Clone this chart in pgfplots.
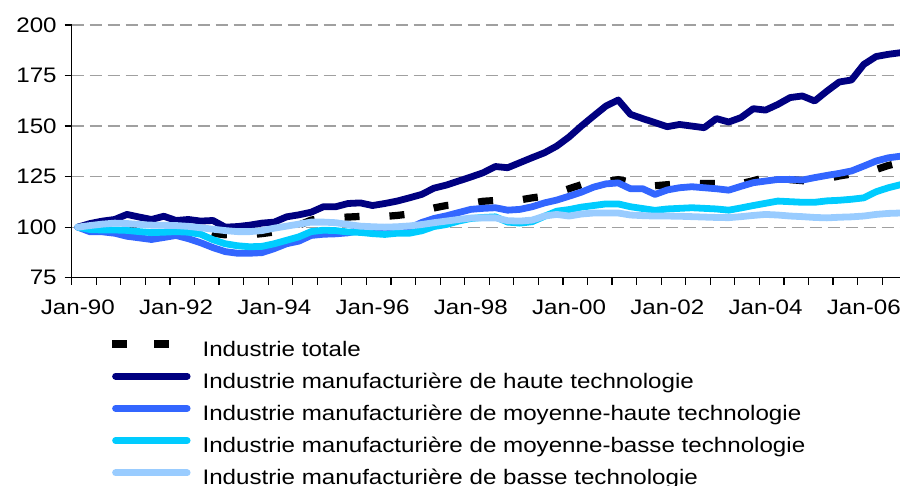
\documentclass[border=0pt]{standalone}
\usepackage{fontspec}
\setmainfont[FakeStretch=1.15]{Liberation Sans}
\usepackage{pgfplots}
\usepackage{pgfplotstable}
\pgfplotsset{compat=1.18}

\definecolor{haute}{HTML}{000080}
\definecolor{mhaute}{HTML}{3366FF}
\definecolor{mbasse}{HTML}{00CCFF}
\definecolor{basse}{HTML}{99CCFF}
\definecolor{gridgray}{HTML}{A0A0A0}

% quarterly indices, Jan-90 = 100 (x = quarter index + 0.5)
\pgfplotstableread{
x    total haute mhaute mbasse basse
0.5  100   100   100   100   100
1.5  100.3 101.8 97.7  98.8  100.8
2.5  100.8 103   97.7  98.6  101.5
3.5  101   103.8 97    98.6  102
4.5  101.3 106.3 95.5  98.4  101.8
5.5  101   105   94.7  97.8  101.3
6.5  100.6 103.8 93.9  97.3  101
7.5  100.7 105.4 94.9  97.5  100.9
8.5  100.3 103.3 95.9  97.8  100.8
9.5  99.8  103.8 94.3  97.5  100.4
10.5 98.8  103   92.3  96.5  99.7
11.5 97    103.3 89.9  93.8  99
12.5 96.2  100   87.9  91.8  98.3
13.5 96    100.3 87.1  90.8  97.8
14.5 96.2  101   87.1  90.3  97.8
15.5 96.8  102   87.4  90.5  98.3
16.5 97.6  102.5 89.4  91.8  99.5
17.5 99.5  105.1 91.8  93.5  100.5
18.5 101   106.1 93.1  95.2  101.5
19.5 103.5 107.4 95.9  97.8  102.5
20.5 104.6 110.1 96.5  98.5  102.5
21.5 104.8 110.1 96.7  98.3  102.2
22.5 105   111.7 97.2  97.6  101.3
23.5 105.3 112   98.5  97.4  100.5
24.5 105.2 110.7 98    96.8  100.2
25.5 105.3 111.7 98    96.4  100
26.5 105.8 112.9 98.5  97    100.2
27.5 106.5 114.5 99.5  97    100.6
28.5 108   116.2 102.3 98.2  101.3
29.5 109.5 119.3 104.3 100.3 102.2
30.5 110.7 120.8 105.6 101.3 103
31.5 111.3 122.8 107.2 103   103.8
32.5 111.8 124.8 108.8 104.3 104.5
33.5 112.8 126.9 109.3 104.8 104.6
34.5 113.2 130   109.6 105.1 104.6
35.5 112.8 129.4 108.4 102.5 103.2
36.5 113.5 131.9 108.8 102   103
37.5 114.5 134.4 110.1 102.7 103.5
38.5 115.3 136.8 112   105.4 105.5
39.5 117   140.1 113.4 107.9 106.3
40.5 119   144.6 115.3 108.7 105.5
41.5 121   150   117.3 109.9 106.5
42.5 121.8 155   119.8 110.7 107
43.5 122.5 159.9 121.4 111.5 107
44.5 123.5 162.9 121.9 111.5 107
45.5 122.3 155.8 119   110.1 106
46.5 121.8 153.7 119   109.2 105.7
47.5 120.5 151.7 116.2 108.3 105.5
48.5 121   149.7 118.4 109   105.5
49.5 121.5 150.8 119.5 109.3 105.4
50.5 121.7 150   120   109.6 105.2
51.5 121.6 149.2 119.5 109.3 105
52.5 121.6 153.7 119   109   104.8
53.5 121   152   118.3 108.4 104.7
54.5 121.5 154.2 120.2 109.5 105.2
55.5 123   158.6 122   110.7 105.8
56.5 124.6 157.9 122.8 111.8 106.3
57.5 124.2 160.7 123.6 112.9 106
58.5 123.5 164.1 123.6 112.6 105.5
59.5 123   164.9 123.3 112.3 105.2
60.5 123   162.4 124.5 112.3 104.8
61.5 124   167.3 125.6 113   104.6
62.5 125.3 171.8 126.6 113.3 104.9
63.5 126.3 172.8 127.8 113.8 105.1
64.5 127   180.5 130.2 114.5 105.5
65.5 128.5 184.4 132.7 117.5 106.3
66.5 130.5 185.5 134.3 119.5 106.8
67.5 132   186.3 135.1 121   107
}\indices

\begin{document}
\begin{tikzpicture}
\begin{axis}[
    scale only axis,
    width=414.15pt, height=126.35pt,
    xmin=0, xmax=67.45,
    ymin=75, ymax=200,
    ytick={75,100,...,200},
    xtick={0,2,...,66},
    xticklabels={},
    extra x ticks={0.5,8.5,16.5,24.5,32.5,40.5,48.5,56.5,64.5},
    extra x tick labels={Jan-90,Jan-92,Jan-94,Jan-96,Jan-98,Jan-00,Jan-02,Jan-04,Jan-06},
    extra x tick style={major tick length=0pt, xticklabel style={yshift=-7.5pt}},
    axis x line*=bottom,
    axis y line*=left,
    axis line style={black, line width=0.6pt},
    tick align=outside,
    major tick length=3.5pt,
    tick style={black, line width=0.6pt},
    ymajorgrids,
    grid style={gridgray, line width=0.6pt, dash pattern=on 6pt off 3pt},
    tick label style={font=\fontsize{10.5}{12}\selectfont, /pgf/number format/assume math mode=true},
    yticklabel style={xshift=-0.5pt},
    legend style={at={(0.044,-0.2465)}, anchor=north west, draw=none, fill=none,
        font=\fontsize{10.5}{12}\selectfont, row sep=5.8pt, inner sep=0pt,
        nodes={inner sep=0pt, text height=7.5pt, text depth=2.5pt}},
    legend cell align={left},
    /tikz/every odd column/.append style={column sep=6pt},
    legend image code/.code={\draw[#1] (1.7pt,3.6pt) -- (37.5pt,3.6pt);},
]
\addplot[black, line width=3.6pt, dash pattern=on 7.5pt off 15pt,
    legend image code/.code={\draw[black, line width=3.6pt] (0pt,3.6pt) -- (10pt,3.6pt) (21pt,3.6pt) -- (31pt,3.6pt);}]
    table[x=x, y=total]{\indices};
\addlegendentry{Industrie totale}
\addplot[haute, line width=3.4pt, line join=round, line cap=round] table[x=x, y=haute]{\indices};
\addlegendentry{Industrie manufacturière de haute technologie}
\addplot[mhaute, line width=3.4pt, line join=round, line cap=round] table[x=x, y=mhaute]{\indices};
\addlegendentry{Industrie manufacturière de moyenne-haute technologie}
\addplot[mbasse, line width=3.4pt, line join=round, line cap=round] table[x=x, y=mbasse]{\indices};
\addlegendentry{Industrie manufacturière de moyenne-basse technologie}
\addplot[basse, line width=3.4pt, line join=round, line cap=round] table[x=x, y=basse]{\indices};
\addlegendentry{Industrie manufacturière de basse technologie}
\end{axis}
\pgfresetboundingbox
\path[use as bounding box] (-35.85pt,-104.15pt) rectangle (414.15pt,138.85pt);
\end{tikzpicture}
\end{document}
